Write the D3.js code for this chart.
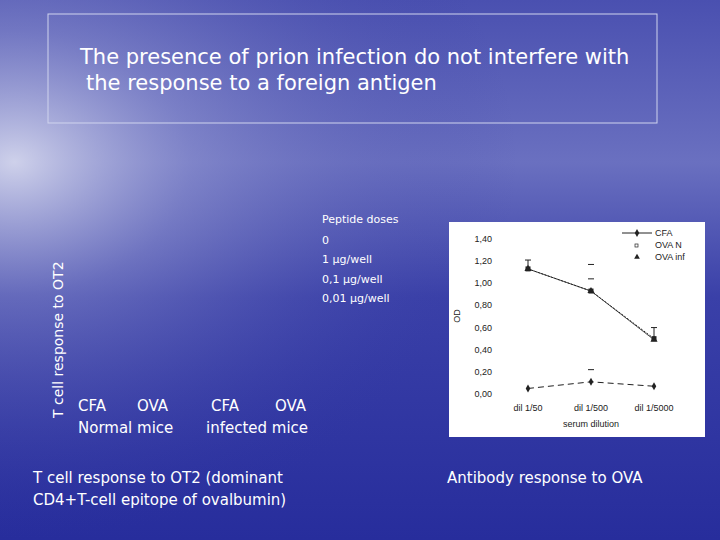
<!DOCTYPE html>
<html><head><meta charset="utf-8">
<script src="https://cdn.jsdelivr.net/npm/d3@7"></script>
<style>body{margin:0}</style>
</head><body>
<div id="chart"></div>
<script>
// Data
const dilutions = ['dil 1/50', 'dil 1/500', 'dil 1/5000']
const cfa = [0.05, 0.11, 0.07]
const ovaN = [1.13, 0.93, 0.50]
const ovaInf = [1.13, 0.93, 0.49]
const ovaErrHi = [1.21, 1.17, 0.60]
const ovaErrLo = [null, 1.04, null]
const cfaErrHi = [null, 0.22, null]
const yTicks = [0, 0.2, 0.4, 0.6, 0.8, 1.0, 1.2, 1.4]
const doses = ['Peptide doses', '0', '1 μg/well', '0,1 μg/well', '0,01 μg/well']

const W = 720, H = 540
const svg = d3.select('#chart').append('svg').attr('width', W).attr('height', H)
  .style('font-family', 'Verdana, "DejaVu Sans", sans-serif')

// Background
const defs = svg.append('defs')
const lg = defs.append('linearGradient').attr('id', 'bgv').attr('x1', 0).attr('y1', 0).attr('x2', 0).attr('y2', 1)
lg.append('stop').attr('offset', '0').attr('stop-color', '#4a50b0')
lg.append('stop').attr('offset', '0.3').attr('stop-color', '#6a70c0')
lg.append('stop').attr('offset', '0.55').attr('stop-color', '#3a40a8')
lg.append('stop').attr('offset', '1').attr('stop-color', '#272d9c')
const g1 = defs.append('radialGradient').attr('id', 'bg').attr('cx', '0.02').attr('cy', '0.3').attr('r', '0.7')
g1.append('stop').attr('offset', '0').attr('stop-color', '#e0e2f2').attr('stop-opacity', 0.85)
g1.append('stop').attr('offset', '0.35').attr('stop-color', '#9a9ed4').attr('stop-opacity', 0.45)
g1.append('stop').attr('offset', '1').attr('stop-color', '#3035a0').attr('stop-opacity', 0)
svg.append('rect').attr('width', W).attr('height', H).attr('fill', 'url(#bgv)')
svg.append('rect').attr('width', W).attr('height', H).attr('fill', 'url(#bg)')

// Title box
svg.append('rect').attr('x', 48).attr('y', 14).attr('width', 609).attr('height', 109)
  .attr('fill', 'none').attr('stroke', '#d0d4ee').attr('stroke-width', 1)
const title = svg.append('text').attr('fill', 'white').attr('font-size', 21)
title.append('tspan').attr('x', 80).attr('y', 64).text('The presence of prion infection do not interfere with')
title.append('tspan').attr('x', 86).attr('y', 90).text('the response to a foreign antigen')

// Left panel texts
svg.append('text').attr('transform', 'translate(63,418) rotate(-90)').attr('fill', 'white')
  .attr('font-size', 14).text('T cell response to OT2')
svg.selectAll('text.dose').data(doses).enter().append('text').attr('class', 'dose')
  .attr('x', 322).attr('y', (d, i) => 223 + i * 19.5 + (i > 0 ? 1 : 0)).attr('fill', 'white')
  .attr('font-size', 11).text(d => d)
const grp = [['CFA', 78], ['OVA', 137], ['CFA', 211], ['OVA', 275]]
svg.selectAll('text.grp').data(grp).enter().append('text').attr('class', 'grp')
  .attr('x', d => d[1]).attr('y', 411).attr('fill', 'white').attr('font-size', 15).text(d => d[0])
svg.append('text').attr('x', 78).attr('y', 433).attr('fill', 'white').attr('font-size', 15).text('Normal mice')
svg.append('text').attr('x', 206).attr('y', 433).attr('fill', 'white').attr('font-size', 15).text('infected mice')
svg.append('text').attr('x', 33).attr('y', 483).attr('fill', 'white').attr('font-size', 15).text('T cell response to OT2 (dominant')
svg.append('text').attr('x', 33).attr('y', 505).attr('fill', 'white').attr('font-size', 15).text('CD4+T-cell epitope of ovalbumin)')
svg.append('text').attr('x', 447).attr('y', 483).attr('fill', 'white').attr('font-size', 15).text('Antibody response to OVA')

// Right chart
svg.append('rect').attr('x', 449).attr('y', 222).attr('width', 256).attr('height', 215).attr('fill', 'white')
const x = d3.scalePoint().domain(dilutions).range([528, 654])
const y = d3.scaleLinear().domain([0, 1.4]).range([394, 239])
const cg = svg.append('g').style('font-family', 'Arial, "Liberation Sans", sans-serif')
cg.selectAll('text.yt').data(yTicks).enter().append('text').attr('class', 'yt')
  .attr('x', 492).attr('y', d => y(d) + 3).attr('text-anchor', 'end').attr('font-size', 9).attr('fill', '#222')
  .text(d => d3.format('.2f')(d).replace('.', ','))
cg.selectAll('text.xt').data(dilutions).enter().append('text').attr('class', 'xt')
  .attr('x', d => x(d)).attr('y', 411).attr('text-anchor', 'middle').attr('font-size', 9).attr('fill', '#222').text(d => d)
cg.append('text').attr('x', 591).attr('y', 427).attr('text-anchor', 'middle').attr('font-size', 9).attr('fill', '#222').text('serum dilution')
cg.append('text').attr('transform', 'translate(460,316) rotate(-90)').attr('text-anchor', 'middle')
  .attr('font-size', 9).attr('fill', '#222').text('OD')

const line = d3.line().x((d, i) => x(dilutions[i])).y(d => y(d))
cg.append('path').attr('d', line(cfa)).attr('fill', 'none').attr('stroke', '#222').attr('stroke-dasharray', '6,4')
cg.append('path').attr('d', line(ovaN)).attr('fill', 'none').attr('stroke', '#222').attr('stroke-dasharray', '2,1.5')
cg.append('path').attr('d', line(ovaInf)).attr('fill', 'none').attr('stroke', '#222').attr('stroke-width', 0.8)

function err(hi, vals) {
  hi.forEach((v, i) => {
    if (v == null) return
    const cx = x(dilutions[i])
    cg.append('line').attr('x1', cx).attr('x2', cx).attr('y1', y(v)).attr('y2', y(vals[i])).attr('stroke', '#222')
    cg.append('line').attr('x1', cx - 3).attr('x2', cx + 3).attr('y1', y(v)).attr('y2', y(v)).attr('stroke', '#222')
  })
}
err([ovaErrHi[0], null, ovaErrHi[2]], ovaN)
;[ovaErrHi[1], ovaErrLo[1]].forEach(v => cg.append('line').attr('x1', x(dilutions[1]) - 3).attr('x2', x(dilutions[1]) + 3)
  .attr('y1', y(v)).attr('y2', y(v)).attr('stroke', '#222'))
cg.append('line').attr('x1', x(dilutions[1]) - 3).attr('x2', x(dilutions[1]) + 3)
  .attr('y1', y(cfaErrHi[1])).attr('y2', y(cfaErrHi[1])).attr('stroke', '#222')

const diamond = d3.symbol().type(d3.symbolDiamond).size(18)
cg.selectAll('path.cfa').data(cfa).enter().append('path').attr('d', diamond)
  .attr('transform', (d, i) => `translate(${x(dilutions[i])},${y(d)})`).attr('fill', '#222')
cg.selectAll('rect.ovn').data(ovaN).enter().append('rect')
  .attr('x', (d, i) => x(dilutions[i]) - 2.5).attr('y', d => y(d) - 2.5).attr('width', 5).attr('height', 5).attr('fill', '#222')
const tri = d3.symbol().type(d3.symbolTriangle).size(22)
cg.selectAll('path.ovi').data(ovaInf).enter().append('path').attr('d', tri)
  .attr('transform', (d, i) => `translate(${x(dilutions[i])},${y(d)})`).attr('fill', '#222')

// Legend
const leg = ['CFA', 'OVA N', 'OVA inf']
leg.forEach((l, i) => {
  const ly = 233 + i * 12
  if (i === 0) {
    cg.append('line').attr('x1', 622).attr('x2', 652).attr('y1', ly).attr('y2', ly).attr('stroke', '#222')
    cg.append('path').attr('d', diamond).attr('transform', `translate(637,${ly})`).attr('fill', '#222')
  } else if (i === 1) {
    cg.append('rect').attr('x', 635).attr('y', ly - 1).attr('width', 3).attr('height', 3).attr('fill', 'none').attr('stroke', '#222').attr('stroke-width', 0.7)
  } else {
    cg.append('path').attr('d', d3.symbol().type(d3.symbolTriangle).size(14)).attr('transform', `translate(637,${ly})`).attr('fill', '#222')
  }
  cg.append('text').attr('x', 655).attr('y', ly + 3).attr('font-size', 9).attr('fill', '#222').text(l)
})
</script>
</body></html>
